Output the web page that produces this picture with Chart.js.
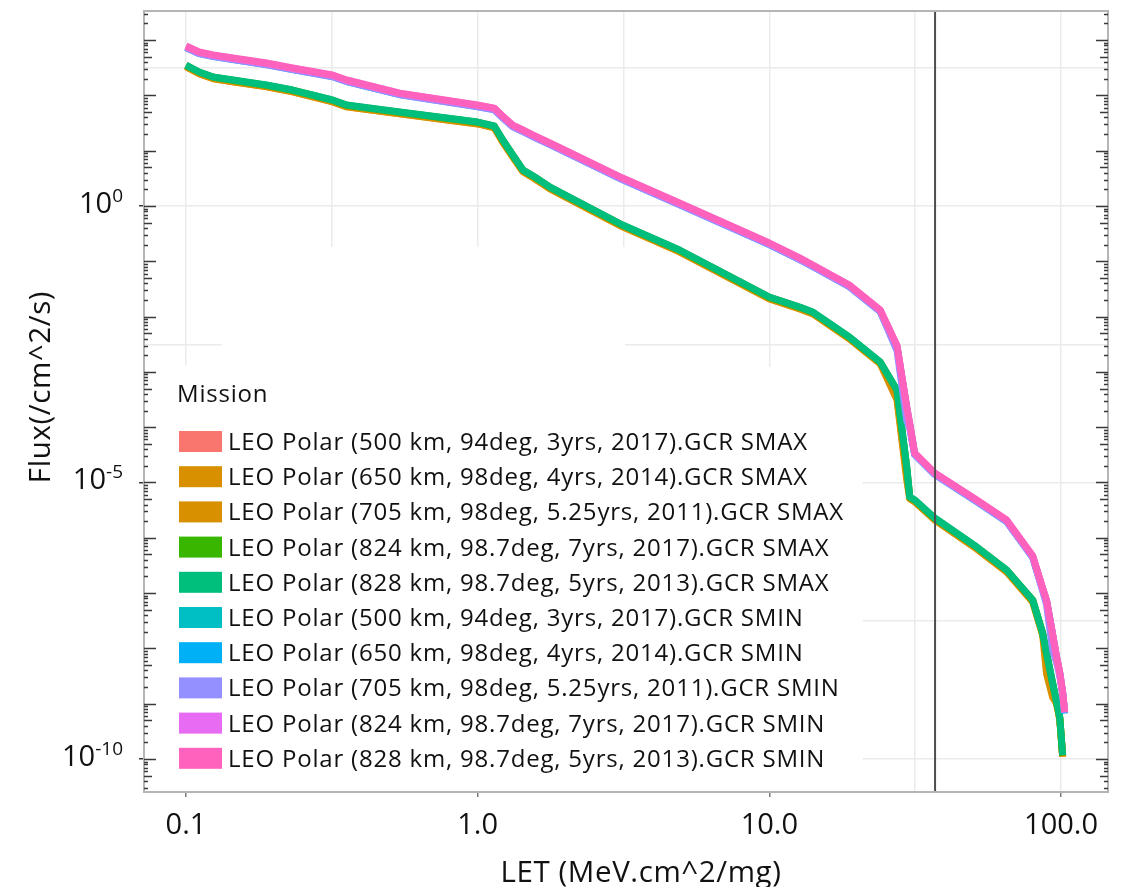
<!DOCTYPE html>
<html>
<head>
<meta charset="utf-8">
<title>LET flux spectra</title>
<script src="https://cdn.jsdelivr.net/npm/chart.js@4.4.1/dist/chart.umd.min.js"></script>
<style>
  html, body { margin: 0; padding: 0; background: #fff; }
  #wrap { width: 1132px; height: 887px; }
</style>
</head>
<body>
<div id="wrap"><canvas id="fluxChart" width="1132" height="887"></canvas></div>
<script>
// LET sample points (MeV.cm^2/mg), shared by all mission curves
const LET = [0.1, 0.111, 0.124, 0.145, 0.189, 0.232, 0.318, 0.356, 0.541, 1.0,
  1.14, 1.22, 1.32, 1.43, 1.55, 1.77, 3.14, 4.92, 10, 12.7,
  14.1, 18.8, 24, 27.4, 29.6, 30.3, 31.5, 36.9, 51.4, 65.1,
  80, 86.5, 89.2, 93.6, 96.6, 99, 101.3, 102.9];

// Flux (/cm^2/s), null where a curve has already ended
const fluxSmax500 = [348, 261, 212, 187, 152, 123, 81.5, 66, 49.3, 32.5, 27.6, 15.3, 8.25, 4.42, 3.45, 2.17, 0.446, 0.157, 0.0222, 0.0147, 0.0119, 0.0042, 1.48e-3, 4.5e-4, 1.75e-5, 5.4e-6, 4.76e-6, 2.24e-6, 6.72e-7, 2.58e-7, 7.4e-8, 1.86e-8, 8.1e-9, 2.3e-9, 1.05e-9, 5.6e-10, 1.15e-10, null];
const fluxSmax650 = [332, 248, 202, 177, 144, 117, 77, 62.5, 46.6, 30.8, 26.2, 14.4, 7.8, 4.2, 3.27, 2.06, 0.425, 0.15, 0.0212, 0.014, 0.0114, 0.004, 1.42e-3, 3.4e-4, 1.3e-5, 5.2e-6, 4.52e-6, 2.12e-6, 6.35e-7, 2.45e-7, 7e-8, 1.77e-8, 7.7e-9, 2.2e-9, 1.0e-9, 5.3e-10, 1.1e-10, null];
const fluxSmax705 = [330, 246, 200, 176, 143, 116, 76.5, 62, 46.3, 30.5, 26, 14.2, 7.7, 4.15, 3.24, 2.04, 0.42, 0.148, 0.0209, 0.0138, 0.0112, 0.00396, 1.4e-3, 3.1e-4, 1.1e-5, 5.1e-6, 4.48e-6, 2.1e-6, 6.3e-7, 2.42e-7, 6.9e-8, 1.75e-8, 3.5e-9, 1.3e-9, 1.0e-9, 5.3e-10, 1.1e-10, null];
const fluxSmax824 = [350, 262, 213, 188, 152, 124, 82, 66, 49.5, 32.6, 27.7, 15.4, 8.3, 4.45, 3.46, 2.18, 0.448, 0.158, 0.0223, 0.0147, 0.0119, 0.00422, 1.49e-3, 4.6e-4, 1.8e-5, 5.4e-6, 4.78e-6, 2.25e-6, 6.75e-7, 2.6e-7, 7.4e-8, 1.85e-8, 8.1e-9, 2.3e-9, 1.05e-9, 5.6e-10, 1.15e-10, null];
const fluxSmax828 = [354, 265, 215, 190, 154, 125, 82.6, 67, 50, 33, 28, 15.6, 8.36, 4.48, 3.5, 2.2, 0.453, 0.16, 0.0226, 0.0149, 0.0121, 0.00428, 1.51e-3, 4.71e-4, 1.9e-5, 5.5e-6, 4.83e-6, 2.28e-6, 6.82e-7, 2.62e-7, 7.5e-8, 1.9e-8, 8.3e-9, 2.37e-9, 1.07e-9, 5.75e-10, 1.18e-10, null];
const fluxSmin500 = [751, 585, 518, 456, 370, 300, 225, 182, 106, 64.3, 56.6, 40.3, 27.8, 22.8, 18.4, 13.2, 3.07, 1.08, 0.205, 0.11, 0.0823, 0.0358, 0.0127, 0.0028, 2.2e-4, 1.1e-4, 3.27e-5, 1.43e-5, 4.64e-6, 2.02e-6, 4.5e-7, 1.18e-7, 7.2e-8, 1.75e-8, 6.7e-9, 3.55e-9, 1.56e-9, 6.8e-10];
const fluxSmin650 = [735, 572, 508, 446, 362, 294, 220, 178, 103.5, 63, 55.5, 39.5, 27.3, 22.3, 18, 13, 3.0, 1.06, 0.201, 0.108, 0.0806, 0.035, 0.0124, 0.0027, 2.0e-4, 1.05e-4, 3.2e-5, 1.4e-5, 4.54e-6, 1.97e-6, 4.42e-7, 1.15e-7, 7e-8, 1.7e-8, 6.5e-9, 3.45e-9, 1.52e-9, 6.6e-10];
const fluxSmin705 = [730, 568, 504, 443, 359, 292, 218, 177, 103, 62.5, 55, 39, 27, 22.1, 17.9, 12.9, 2.98, 1.05, 0.2, 0.107, 0.08, 0.0348, 0.0123, 0.0024, 1.3e-4, 9.5e-5, 3.2e-5, 1.39e-5, 4.5e-6, 1.96e-6, 4.4e-7, 1.1e-7, 6.2e-8, 9.3e-9, 5.5e-9, 3.2e-9, 1.5e-9, 6.8e-10];
const fluxSmin824 = [768, 598, 530, 466, 378, 307, 230, 186, 108, 65.8, 58, 41.2, 28.5, 23.3, 18.8, 13.5, 3.14, 1.11, 0.21, 0.113, 0.084, 0.0366, 0.0129, 0.0029, 2.2e-4, 1.12e-4, 3.35e-5, 1.46e-5, 4.74e-6, 2.06e-6, 4.6e-7, 1.2e-7, 7.3e-8, 1.75e-8, 6.8e-9, 3.6e-9, 1.6e-9, 7.0e-10];
const fluxSmin828 = [782, 609, 540, 475, 385, 313, 234, 190, 110, 67, 59, 42, 29, 23.7, 19.2, 13.8, 3.2, 1.13, 0.214, 0.115, 0.0857, 0.0373, 0.0132, 0.003, 2.32e-4, 1.15e-4, 3.41e-5, 1.49e-5, 4.83e-6, 2.10e-6, 4.7e-7, 1.23e-7, 7.5e-8, 1.82e-8, 6.98e-9, 3.7e-9, 1.63e-9, 7.08e-10];

const missionLabels = [
  "LEO Polar (500 km, 94deg, 3yrs, 2017).GCR SMAX",
  "LEO Polar (650 km, 98deg, 4yrs, 2014).GCR SMAX",
  "LEO Polar (705 km, 98deg, 5.25yrs, 2011).GCR SMAX",
  "LEO Polar (824 km, 98.7deg, 7yrs, 2017).GCR SMAX",
  "LEO Polar (828 km, 98.7deg, 5yrs, 2013).GCR SMAX",
  "LEO Polar (500 km, 94deg, 3yrs, 2017).GCR SMIN",
  "LEO Polar (650 km, 98deg, 4yrs, 2014).GCR SMIN",
  "LEO Polar (705 km, 98deg, 5.25yrs, 2011).GCR SMIN",
  "LEO Polar (824 km, 98.7deg, 7yrs, 2017).GCR SMIN",
  "LEO Polar (828 km, 98.7deg, 5yrs, 2013).GCR SMIN"
];
const missionColors = ["#F8766D", "#D89000", "#D89000", "#39B600", "#00BF7D",
  "#00BFC4", "#00B0F6", "#9590FF", "#E76BF3", "#FF62BC"];
const missionFlux = [fluxSmax500, fluxSmax650, fluxSmax705, fluxSmax824, fluxSmax828,
  fluxSmin500, fluxSmin650, fluxSmin705, fluxSmin824, fluxSmin828];

// Axes
const xGridTicks = [0.1, 0.3162, 1, 3.162, 10, 31.62, 100];
const xMajorTicks = [0.1, 1, 10, 100];
const xTickLabels = ["0.1", "1.0", "10.0", "100.0"];
const yGridExponents = [2.5, 0, -2.5, -5, -7.5, -10];
const yLabelExponents = [0, -5, -10];
const xTitle = "LET (MeV.cm^2/mg)";
const yTitle = "Flux(/cm^2/s)";

// Vertical reference LET
const letThreshold = 37;

// Panel areas where the reference image has no grid lines (under the legend)
const gridMaskBoxes = [
  { from: 0.0718, to: 0.133, below: 1.33e-3 },
  { from: 0.133, to: 3.2, below: 0.182 },
  { from: 3.2, to: 20.9, below: 1.23e-3 }
];

const FONT = '"Open Sans", Lato, "DejaVu Sans", sans-serif';
const legendLayout = { titleX: 177, titleY: 402, swatchX: 179, firstRowY: 441.5, rowGap: 35.2,
  swatchW: 43, swatchH: 21, textX: 228, fontSize: 24, spacing: "0.8px" };
const titleLayout = { xCenter: 641, xBaseline: 882, yCenter: 387, yBaseline: 50, fontSize: 29.5, spacing: "0.6px" };

Chart.defaults.font.family = FONT;
Chart.defaults.color = "#111";

const isNear = (a, b) => Math.abs(a - b) / b < 1e-3;

const panelPlugin = {
  id: "panel",
  beforeDatasetsDraw(chart) {
    const { ctx, chartArea, scales: { x, y } } = chart;
    ctx.save();
    ctx.fillStyle = "#ffffff";
    gridMaskBoxes.forEach(b => {
      const x0 = x.getPixelForValue(b.from);
      const x1 = x.getPixelForValue(b.to);
      const top = y.getPixelForValue(b.below);
      ctx.fillRect(x0, top, x1 - x0, chartArea.bottom - top);
    });
    ctx.restore();
  },
  afterDatasetsDraw(chart) {
    const { ctx, chartArea: area, scales: { x, y } } = chart;
    ctx.save();

    // reference line
    const lx = x.getPixelForValue(letThreshold);
    ctx.strokeStyle = "#4d4d4d";
    ctx.lineWidth = 2;
    ctx.beginPath();
    ctx.moveTo(lx, area.top);
    ctx.lineTo(lx, area.bottom);
    ctx.stroke();

    // panel frame
    ctx.strokeStyle = "#b5b5b5";
    ctx.lineWidth = 2;
    ctx.strokeRect(area.left, area.top, area.right - area.left, area.bottom - area.top);

    // log ticks on left and right sides
    ctx.strokeStyle = "#3a3a3a";
    ctx.lineWidth = 1.3;
    ctx.beginPath();
    const kMin = Math.floor(Math.log10(y.min));
    const kMax = Math.ceil(Math.log10(y.max));
    for (let k = kMin; k <= kMax; k++) {
      for (let m = 1; m <= 9; m++) {
        const v = m * Math.pow(10, k);
        if (v < y.min || v > y.max) continue;
        const py = Math.round(y.getPixelForValue(v)) + 0.5;
        const len = m === 1 ? 12 : (m === 5 ? 8 : 4);
        ctx.moveTo(area.left, py);
        ctx.lineTo(area.left + len, py);
        ctx.moveTo(area.right, py);
        ctx.lineTo(area.right - len, py);
      }
    }
    ctx.stroke();
    ctx.restore();
  },
  afterDraw(chart) {
    const { ctx, chartArea: area, scales: { y } } = chart;
    ctx.save();
    ctx.fillStyle = "#111";
    ctx.textBaseline = "alphabetic";

    // y tick labels as 10 with a raised exponent
    yLabelExponents.forEach(e => {
      const py = y.getPixelForValue(Math.pow(10, e));
      ctx.font = "29px " + FONT;
      const wBase = ctx.measureText("10").width;
      ctx.font = "19px " + FONT;
      const sup = String(e);
      const wSup = ctx.measureText(sup).width;
      const right = area.left - 21;
      ctx.font = "29px " + FONT;
      ctx.fillText("10", right - wSup - wBase, py + 7);
      ctx.font = "19px " + FONT;
      ctx.fillText(sup, right - wSup, py - 4);
    });

    // axis titles
    const T = titleLayout;
    ctx.font = T.fontSize + "px " + FONT;
    ctx.letterSpacing = T.spacing;
    ctx.textAlign = "center";
    ctx.fillText(xTitle, T.xCenter, T.xBaseline);
    ctx.save();
    ctx.translate(T.yBaseline, T.yCenter);
    ctx.rotate(-Math.PI / 2);
    ctx.fillText(yTitle, 0, 0);
    ctx.restore();
    ctx.textAlign = "left";

    // legend
    const L = legendLayout;
    ctx.font = L.fontSize + "px " + FONT;
    ctx.letterSpacing = L.spacing;
    ctx.fillText("Mission", L.titleX, L.titleY);
    chart.data.datasets.forEach((ds, i) => {
      const cy = L.firstRowY + i * L.rowGap;
      ctx.fillStyle = ds.borderColor;
      ctx.fillRect(L.swatchX, cy - L.swatchH / 2, L.swatchW, L.swatchH);
      ctx.fillStyle = "#111";
      ctx.fillText(ds.label, L.textX, cy + 8.5);
    });
    ctx.letterSpacing = "0px";
    ctx.restore();
  }
};

const datasets = missionLabels.map((label, i) => ({
  label: label,
  data: LET.map((v, j) => ({ x: v, y: missionFlux[i][j] })).filter(p => p.y !== null),
  borderColor: missionColors[i],
  backgroundColor: missionColors[i],
  borderWidth: 7,
  pointRadius: 0,
  tension: 0,
  fill: false,
  borderJoinStyle: "round",
  order: missionLabels.length - i
}));

new Chart(document.getElementById("fluxChart"), {
  type: "line",
  data: { datasets: datasets },
  options: {
    responsive: false,
    animation: false,
    devicePixelRatio: 1,
    layout: { padding: { top: 11, right: 24, left: 0, bottom: 0 } },
    plugins: { legend: { display: false }, tooltip: { enabled: false } },
    scales: {
      x: {
        type: "logarithmic",
        position: "bottom",
        min: 0.0718,
        max: 144.9,
        afterBuildTicks: s => { s.ticks = xGridTicks.map(v => ({ value: v })); },
        afterFit: s => { s.height = 95; },
        border: { display: false },
        grid: {
          color: "#ebebeb",
          lineWidth: 1.5,
          tickLength: 5,
          tickColor: c => xMajorTicks.some(t => isNear(c.tick.value, t)) ? "#7a7a7a" : "rgba(0,0,0,0)"
        },
        ticks: {
          autoSkip: false,
          maxRotation: 0,
          padding: 11,
          color: "#111",
          font: { size: 29 },
          callback: v => {
            const i = xMajorTicks.findIndex(t => isNear(v, t));
            return i >= 0 ? xTickLabels[i] : "";
          }
        },
        title: { display: false }
      },
      y: {
        type: "logarithmic",
        position: "left",
        min: 2.53e-11,
        max: 3360,
        afterBuildTicks: s => { s.ticks = yGridExponents.map(e => ({ value: Math.pow(10, e) })); },
        afterFit: s => { s.width = 144; },
        border: { display: false },
        grid: {
          color: "#ebebeb",
          lineWidth: 1.5,
          tickLength: 5,
          tickColor: c => yLabelExponents.some(e => isNear(c.tick.value, Math.pow(10, e))) ? "#3a3a3a" : "rgba(0,0,0,0)"
        },
        ticks: { display: false },
        title: { display: false }
      }
    }
  },
  plugins: [panelPlugin]
});
</script>
</body>
</html>
